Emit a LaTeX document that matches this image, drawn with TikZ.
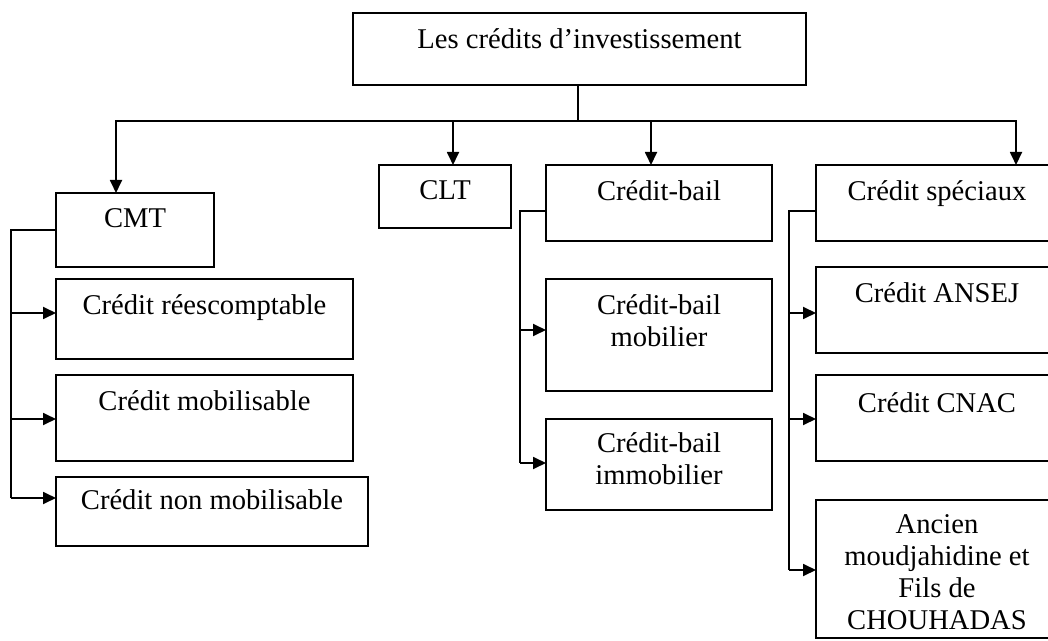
\documentclass[tikz,border=0pt]{standalone}
\usepackage{fontspec}
\setmainfont{Liberation Serif}
\usetikzlibrary{arrows.meta, positioning}

\begin{document}
\begin{tikzpicture}[x=0.5pt, y=-0.5pt,
    box/.style 2 args={rectangle, draw, line width=0.9pt, minimum width=#1*0.5pt, minimum height=#2*0.5pt, inner sep=0pt},
    txt/.style={inner sep=0pt, align=center, font=\fontsize{14.3}{16}\selectfont},
    link/.style={line width=0.9pt},
    arrow/.style={link, -{Triangle[length=6.5pt, width=6pt]}}
]
\useasboundingbox (0,0) rectangle (1048,641);
\clip (0,0) rectangle (1048,641);

\node[box={453}{72}] (top) at (579.5,49) {};
\node[txt, below=8pt of top.north] (top-t) {Les crédits d’investissement};

\node[box={158}{74}] (cmt) at (135,230) {};
\node[txt, below=8pt of cmt.north] (cmt-t) {CMT};
\node[box={132}{63}] (clt) at (445,196.5) {};
\node[txt, below=8pt of clt.north] (clt-t) {CLT};
\node[box={226}{76}] (bail) at (659,203) {};
\node[txt, below=8pt of bail.north] (bail-t) {Crédit-bail};
\node[box={242}{76}] (spec) at (937,203) {};
\node[txt, below=8pt of spec.north] (spec-t) {Crédit spéciaux};

\node[box={297}{80}] (rees) at (204.5,319) {};
\node[txt, below=8pt of rees.north] (rees-t) {Crédit réescomptable};
\node[box={297}{86}] (mob) at (204.5,418) {};
\node[txt, below=8pt of mob.north] (mob-t) {Crédit mobilisable};
\node[box={312}{69}] (nonmob) at (212,511.5) {};
\node[txt, below=6.5pt of nonmob.north] (nonmob-t) {Crédit non mobilisable};

\node[box={226}{112}] (bmob) at (659,335) {};
\node[txt, below=8pt of bmob.north] (bmob-t) {Crédit-bail\\mobilier};
\node[box={226}{91}] (bimmob) at (659,464.5) {};
\node[txt, below=7pt of bimmob.north] (bimmob-t) {Crédit-bail\\immobilier};

\node[box={242}{86}] (ansej) at (937,310) {};
\node[txt, below=8pt of ansej.north] (ansej-t) {Crédit ANSEJ};
\node[box={242}{86}] (cnac) at (937,418) {};
\node[txt, below=9pt of cnac.north] (cnac-t) {Crédit CNAC};
\node[box={242}{138}] (ancien) at (937,569) {};
\node[txt, below=7.5pt of ancien.north] (ancien-t) {Ancien\\moudjahidine et\\Fils de\\CHOUHADAS};

\coordinate (hub) at (578,121);
\coordinate (cmt-in) at (116,193);
\coordinate (clt-in) at (453,165);
\coordinate (bail-in) at (651,165);
\coordinate (spec-in) at (1016,165);
\draw[link] (top.south -| hub) -- (hub);
\draw[arrow] (hub) -| (cmt-in);
\draw[arrow] (hub) -| (spec-in);
\draw[arrow] (hub -| clt-in) -- (clt-in);
\draw[arrow] (hub -| bail-in) -- (bail-in);

\coordinate (rees-in) at (56,313);
\coordinate (mob-in) at (56,419);
\coordinate (nonmob-in) at (56,498);
\draw[link] (cmt.west) -- ++(-44,0) coordinate (rail-cmt) -- (rail-cmt |- nonmob-in);
\foreach \n in {rees,mob,nonmob}
    \draw[arrow] (rail-cmt |- \n-in) -- (\n-in);

\coordinate (bmob-in) at (546,330);
\coordinate (bimmob-in) at (546,463);
\draw[link] ([yshift=-4pt]bail.west) -- ++(-25,0) coordinate (rail-bail) -- (rail-bail |- bimmob-in);
\foreach \n in {bmob,bimmob}
    \draw[arrow] (rail-bail |- \n-in) -- (\n-in);

\coordinate (ansej-in) at (816,313);
\coordinate (cnac-in) at (816,419);
\coordinate (ancien-in) at (816,570);
\draw[link] ([yshift=-4pt]spec.west) -- ++(-26,0) coordinate (rail-spec) -- (rail-spec |- ancien-in);
\foreach \n in {ansej,cnac,ancien}
    \draw[arrow] (rail-spec |- \n-in) -- (\n-in);

\end{tikzpicture}
\end{document}
